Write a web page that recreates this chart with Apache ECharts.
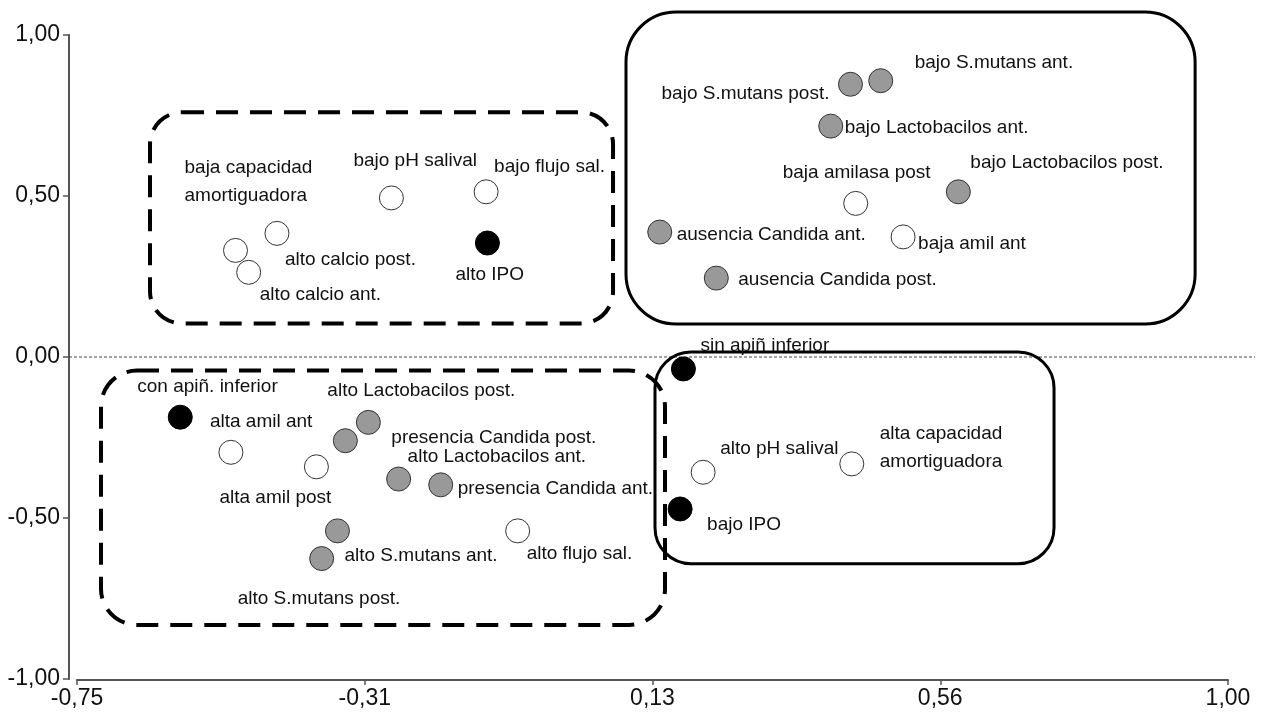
<!DOCTYPE html>
<html>
<head>
<meta charset="utf-8">
<script src="https://cdn.jsdelivr.net/npm/echarts@6/dist/echarts.min.js"></script>
<style>
    html, body { margin: 0; padding: 0; background: #fff; }
    #main { width: 1261px; height: 713px; }
</style>
</head>
<body>
<div id="main"></div>
<script>
// categorías (etiquetas de los puntos)
var names = [
    'baja capacidad\namortiguadora', 'alto calcio post.', 'alto calcio ant.', 'bajo pH salival', 'bajo flujo sal.', 'alto IPO',
    'bajo S.mutans post.', 'bajo S.mutans ant.', 'bajo Lactobacilos ant.', 'baja amilasa post', 'bajo Lactobacilos post.',
    'ausencia Candida ant.', 'baja amil ant', 'ausencia Candida post.',
    'con apiñ. inferior', 'alta amil ant', 'alta amil post', 'alto Lactobacilos post.', 'presencia Candida post.',
    'alto Lactobacilos ant.', 'presencia Candida ant.', 'alto S.mutans ant.', 'alto S.mutans post.', 'alto flujo sal.',
    'sin apiñ inferior', 'alto pH salival', 'alta capacidad\namortiguadora', 'bajo IPO'
];
// eje 1
var xs = [
    -0.509, -0.446, -0.489, -0.272, -0.128, -0.126,
    0.426, 0.472, 0.396, 0.434, 0.590,
    0.136, 0.506, 0.222,
    -0.593, -0.516, -0.386, -0.307, -0.342,
    -0.261, -0.197, -0.354, -0.378, -0.080,
    0.172, 0.202, 0.428, 0.167
];
// eje 2
var ys = [
    0.331, 0.384, 0.263, 0.494, 0.513, 0.354,
    0.847, 0.858, 0.717, 0.477, 0.513,
    0.388, 0.373, 0.245,
    -0.187, -0.296, -0.341, -0.203, -0.260,
    -0.379, -0.397, -0.540, -0.626, -0.540,
    -0.037, -0.358, -0.332, -0.472
];
// tipo de variable: b = blanco, g = gris, n = negro
var kinds = [
    'b', 'b', 'b', 'b', 'b', 'n',
    'g', 'g', 'g', 'b', 'g',
    'g', 'b', 'g',
    'n', 'b', 'b', 'g', 'g',
    'g', 'g', 'g', 'g', 'b',
    'n', 'b', 'b', 'n'
];
var xTickLabels = ['-0,75', '-0,31', '0,13', '0,56', '1,00'];
var yTickLabels = ['-1,00', '-0,50', '0,00', '0,50', '1,00'];

// donde va cada etiqueta respecto al punto: [align, dx, dy]
var labelAt = [
    ['left', -51, -69], ['left', 8, 26], ['left', 11, 22], ['left', -38, -37], ['left', 8, -25], ['left', -32, 32],
    ['right', -21, 9], ['left', 34, -18], ['left', 14, 2], ['left', -73, -31], ['left', 12, -29],
    ['left', 17, 3], ['left', 15, 7], ['left', 22, 2],
    ['left', -43, -30], ['left', -21, -31], ['left', -97, 31], ['left', -41, -32], ['left', 46, -3],
    ['left', 9, -22], ['left', 17, 4], ['left', 7, 25], ['left', -84, 40], ['left', 9, 23],
    ['left', 17, -23], ['left', 17, -24], ['left', 28, -16], ['left', 27, 16]
];
// recuadros de grupos en unidades de los ejes: [x1, y1, x2, y2, r, discontinuo]
var boxes = [
    [-0.639, 0.760, 0.065, 0.104, 32, true],
    [-0.7135, -0.042, 0.144, -0.832, 36, true],
    [0.0847, 1.0715, 0.950, 0.1026, 50, false],
    [0.1288, 0.0156, 0.7355, -0.642, 36, false]
];

var fills = { b: '#ffffff', g: '#999999', n: '#000000' };
var font = 'Liberation Sans, Arial, sans-serif';

var chart = echarts.init(document.getElementById('main'));

var data = xs.map(function (x, i) {
    return {
        value: [x, ys[i]],
        name: names[i],
        itemStyle: {
            color: fills[kinds[i]],
            borderColor: kinds[i] === 'n' ? '#000' : '#333',
            borderWidth: 1,
            opacity: 1
        },
        label: {
            align: labelAt[i][0],
            offset: [labelAt[i][1], labelAt[i][2]]
        }
    };
});

var option = {
    animation: false,
    backgroundColor: '#fff',
    grid: { left: 77, right: 33, top: 35, bottom: 34 },
    xAxis: {
        type: 'value',
        min: -0.75,
        max: 1.0,
        interval: 0.4375,
        offset: 1,
        splitLine: { show: false },
        axisLine: { onZero: false, lineStyle: { color: '#555', width: 2 } },
        axisTick: { length: 5, lineStyle: { color: '#555', width: 1.5 } },
        axisLabel: {
            margin: 7,
            color: '#111',
            fontSize: 23,
            fontFamily: font,
            formatter: function (v) {
                return xTickLabels[Math.round((v + 0.75) / 0.4375)];
            }
        }
    },
    yAxis: {
        type: 'value',
        min: -1,
        max: 1,
        interval: 0.5,
        offset: 8,
        splitLine: { show: false },
        axisLine: { onZero: false, lineStyle: { color: '#555', width: 2 } },
        axisTick: { length: 6, lineStyle: { color: '#555', width: 1.5 } },
        axisLabel: {
            margin: 9,
            color: '#111',
            fontSize: 23,
            fontFamily: font,
            formatter: function (v) {
                return yTickLabels[Math.round((v + 1) / 0.5)];
            }
        }
    },
    series: [{
        type: 'scatter',
        z: 5,
        symbol: 'circle',
        symbolSize: 24,
        data: data,
        itemStyle: { opacity: 1 },
        label: {
            show: true,
            position: 'inside',
            verticalAlign: 'middle',
            color: '#111',
            fontSize: 19,
            lineHeight: 28,
            fontFamily: font,
            formatter: function (p) { return p.name; }
        },
        emphasis: { disabled: true }
    }]
};
chart.setOption(option);

// líneas de referencia y recuadros
function px(x, y) { return chart.convertToPixel({ gridIndex: 0 }, [x, y]); }
var g = [];
var zero = px(0, 0), top = px(0, 1), bot = px(0, -1), right = px(1, 0), left = px(-0.75, 0);
g.push({
    type: 'line', z: 1, silent: true,
    shape: { x1: zero[0], y1: top[1], x2: zero[0], y2: bot[1] },
    style: { stroke: '#444', lineWidth: 1, lineDash: [2, 3] }
});
g.push({
    type: 'line', z: 1, silent: true,
    shape: { x1: left[0] - 8, y1: zero[1], x2: right[0] + 27, y2: zero[1] },
    style: { stroke: '#444', lineWidth: 1, lineDash: [3, 2] }
});
boxes.forEach(function (b) {
    var a = px(b[0], b[1]), c = px(b[2], b[3]);
    g.push({
        type: 'rect', z: 2, silent: true,
        shape: { x: a[0], y: a[1], width: c[0] - a[0], height: c[1] - a[1], r: b[4] },
        style: {
            fill: null,
            stroke: '#000',
            lineWidth: b[5] ? 4 : 3,
            lineDash: b[5] ? [22, 12] : null
        }
    });
});
chart.setOption({ graphic: g });
</script>
</body>
</html>
